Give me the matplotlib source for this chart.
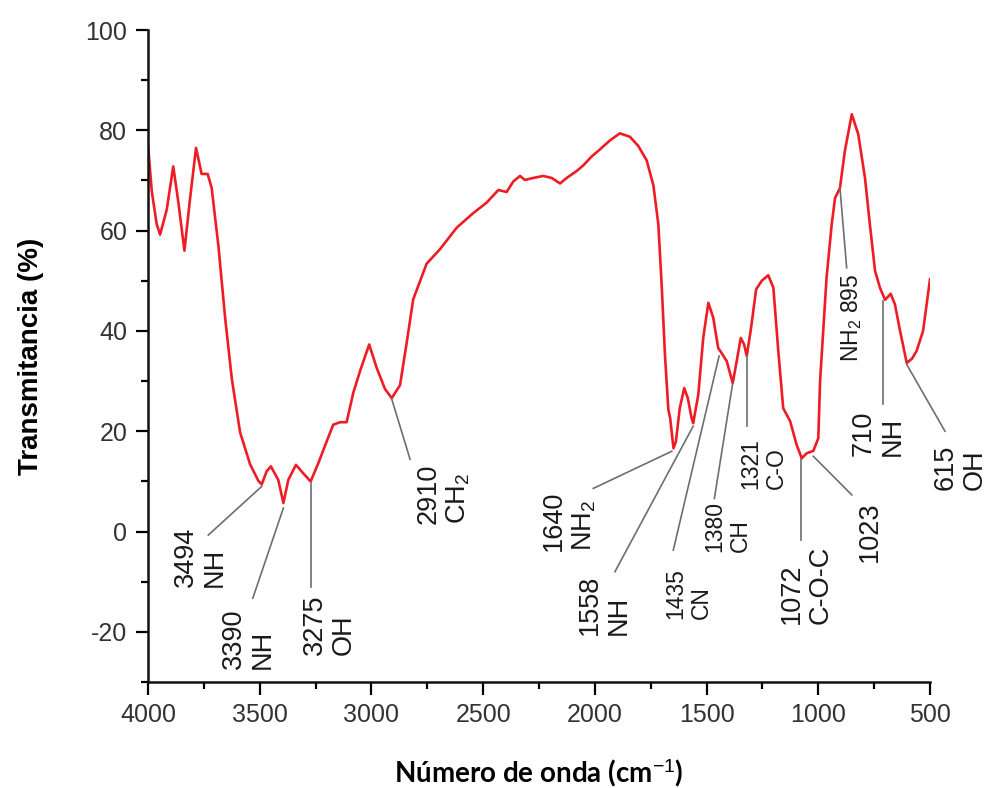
import matplotlib.pyplot as plt
from matplotlib.ticker import MultipleLocator

# {{{ spectrum (cm-1, %T)
wavenumber = [
    4000, 3983, 3961, 3946, 3916, 3887, 3864, 3837, 3812, 3785,
    3760, 3733, 3715, 3685, 3655, 3625, 3588, 3543, 3506, 3491,
    3469, 3450, 3417, 3394, 3372, 3338, 3305, 3272, 3238, 3200,
    3171, 3140, 3111, 3081, 3051, 3010, 2977, 2939, 2909, 2872,
    2842, 2813, 2753, 2693, 2618, 2544, 2484, 2432, 2395, 2365,
    2335, 2313, 2276, 2231, 2193, 2156, 2126, 2081, 2052, 2014,
    1977, 1932, 1888, 1843, 1806, 1768, 1738, 1716, 1701, 1686,
    1671, 1663, 1648, 1637, 1620, 1600, 1584, 1567, 1560, 1537,
    1515, 1492, 1470, 1448, 1433, 1410, 1383, 1365, 1347, 1332,
    1320, 1301, 1278, 1253, 1224, 1201, 1179, 1157, 1126, 1097,
    1074, 1052, 1022, 1000, 992, 978, 963, 940, 925, 903,
    881, 850, 821, 791, 769, 746, 724, 701, 676, 657,
    634, 604, 580, 560, 531, 500,
]
transmittance = [
    77.0, 67.8, 61.3, 59.2, 64.2, 72.8, 65.6, 56.0, 66.3, 76.5,
    71.3, 71.3, 68.5, 57.0, 42.7, 30.5, 19.8, 13.4, 10.1, 9.4,
    12.0, 13.0, 10.3, 5.7, 10.3, 13.3, 11.6, 10.0, 13.6, 18.0,
    21.3, 21.8, 21.8, 27.7, 32.0, 37.3, 32.7, 28.4, 26.6, 29.2,
    37.7, 46.3, 53.4, 56.3, 60.6, 63.5, 65.6, 68.1, 67.7, 69.8,
    70.9, 70.1, 70.5, 70.9, 70.5, 69.4, 70.5, 71.9, 73.0, 74.8,
    76.2, 78.0, 79.4, 78.7, 76.9, 74.0, 69.0, 61.3, 49.2, 35.0,
    24.3, 22.6, 16.6, 18.0, 24.6, 28.6, 26.6, 22.6, 21.6, 27.3,
    38.6, 45.6, 42.6, 36.6, 35.6, 34.0, 29.6, 34.0, 38.6, 37.3,
    35.0, 40.6, 48.3, 50.0, 51.1, 48.6, 36.0, 24.6, 22.0, 17.3,
    14.6, 15.6, 16.1, 18.6, 30.0, 40.0, 50.6, 61.2, 66.5, 68.5,
    75.9, 83.2, 79.2, 70.5, 61.2, 52.0, 48.6, 46.2, 47.4, 45.3,
    40.0, 33.6, 34.5, 36.0, 40.0, 50.3,
]
# }}}

# {{{ band assignments
band_labels = [
    "3494\nNH", "3390\nNH", "3275\nOH", "2910\nCH$_2$",
    "1640\nNH$_2$", "1558\nNH", "1435\nCN", "1380\nCH",
    "1321\nC-O", "1072\nC-O-C", "1023", "NH$_2$ 895",
    "710\nNH", "615\nOH",
]
# leader line: (wn, T) on the band -> (wn, T) near the text
leader_start = [
    (3491, 9.0), (3394, 4.7), (3272, 9.6), (2909, 26.4),
    (1656, 16.0), (1560, 21.0), (1444, 35.0), (1383, 29.6),
    (1320, 35.0), (1077, 14.4), (1022, 15.0), (903, 68.5),
    (709, 46.0), (604, 33.3),
]
leader_end = [
    (3730, -0.7), (3531, -13.3), (3272, -11.0), (2827, 14.4),
    (2007, 8.6), (1910, -8.0), (1649, -3.7), (1465, 6.6),
    (1320, 21.0), (1077, -1.6), (850, 7.3), (873, 52.6),
    (709, 25.4), (433, 20.0),
]
# text anchor: centre in x, bottom edge in y (top edge for the 895 one)
text_pos = [
    (3767, -11.0), (3550, -27.4), (3188, -24.6), (2675, 1.6),
    (2114, -3.8), (1957, -20.6), (1579, -17.4), (1404, -4.0),
    (1243, 8.4), (1055, -18.4), (769, -6.0), (849, 51.5),
    (731, 15.0), (366, 8.2),
]
small_text = {"1435\nCN", "1380\nCH", "1321\nC-O", "NH$_2$ 895"}
# }}}

plt.rcParams["font.family"] = ["Liberation Sans", "DejaVu Sans"]
plt.rcParams["mathtext.fontset"] = "custom"
plt.rcParams["mathtext.rm"] = "Liberation Sans"
plt.rcParams["mathtext.it"] = "Liberation Sans:italic"
plt.rcParams["mathtext.bf"] = "Liberation Sans:bold"
plt.rcParams["axes.unicode_minus"] = False

fig = plt.figure(figsize=(9.91, 7.88), dpi=100)
ax = fig.add_axes([148 / 991, 1 - 682 / 788, 782 / 991, 652 / 788])

ax.plot(wavenumber, transmittance, color="#ee1c24", lw=1.9,
        solid_joinstyle="round")

for lab, (x0, y0), (x1, y1), (tx, ty) in zip(
    band_labels, leader_start, leader_end, text_pos
):
    ax.plot([x0, x1], [y0, y1], color="#6e6e6e", lw=1.2, clip_on=False)
    fs = 16.5 if lab in small_text else 19.5
    ax.text(
        tx, ty, lab,
        rotation=90,
        ha="center",
        va="top" if lab.startswith("NH$_2$ ") else "bottom",
        multialignment="left",
        fontsize=fs,
        linespacing=1.15,
        color="#1a1a1a",
    )

ax.set_xlim(4000, 500)
ax.set_ylim(-30, 100)
ax.xaxis.set_major_locator(MultipleLocator(500))
ax.xaxis.set_minor_locator(MultipleLocator(250))
ax.yaxis.set_major_locator(MultipleLocator(20))
ax.yaxis.set_minor_locator(MultipleLocator(10))
for side in ("top", "right"):
    ax.spines[side].set_visible(False)
for side in ("left", "bottom"):
    ax.spines[side].set_linewidth(1.8)
    ax.spines[side].set_color("#111111")
ax.tick_params(which="major", direction="out", length=9, width=1.6,
               labelsize=18, labelcolor="#333333", pad=6)
ax.tick_params(which="minor", direction="out", length=5, width=1.6)

ax.set_ylabel("Transmitancia (%)", fontsize=20, fontweight="bold",
              labelpad=30)
ax.set_xlabel("Número de onda (cm$^{-1}$)", fontsize=20,
              fontweight="bold", family=["Lato", "DejaVu Sans"],
              labelpad=22)

fig.savefig("out.png", dpi=100)
